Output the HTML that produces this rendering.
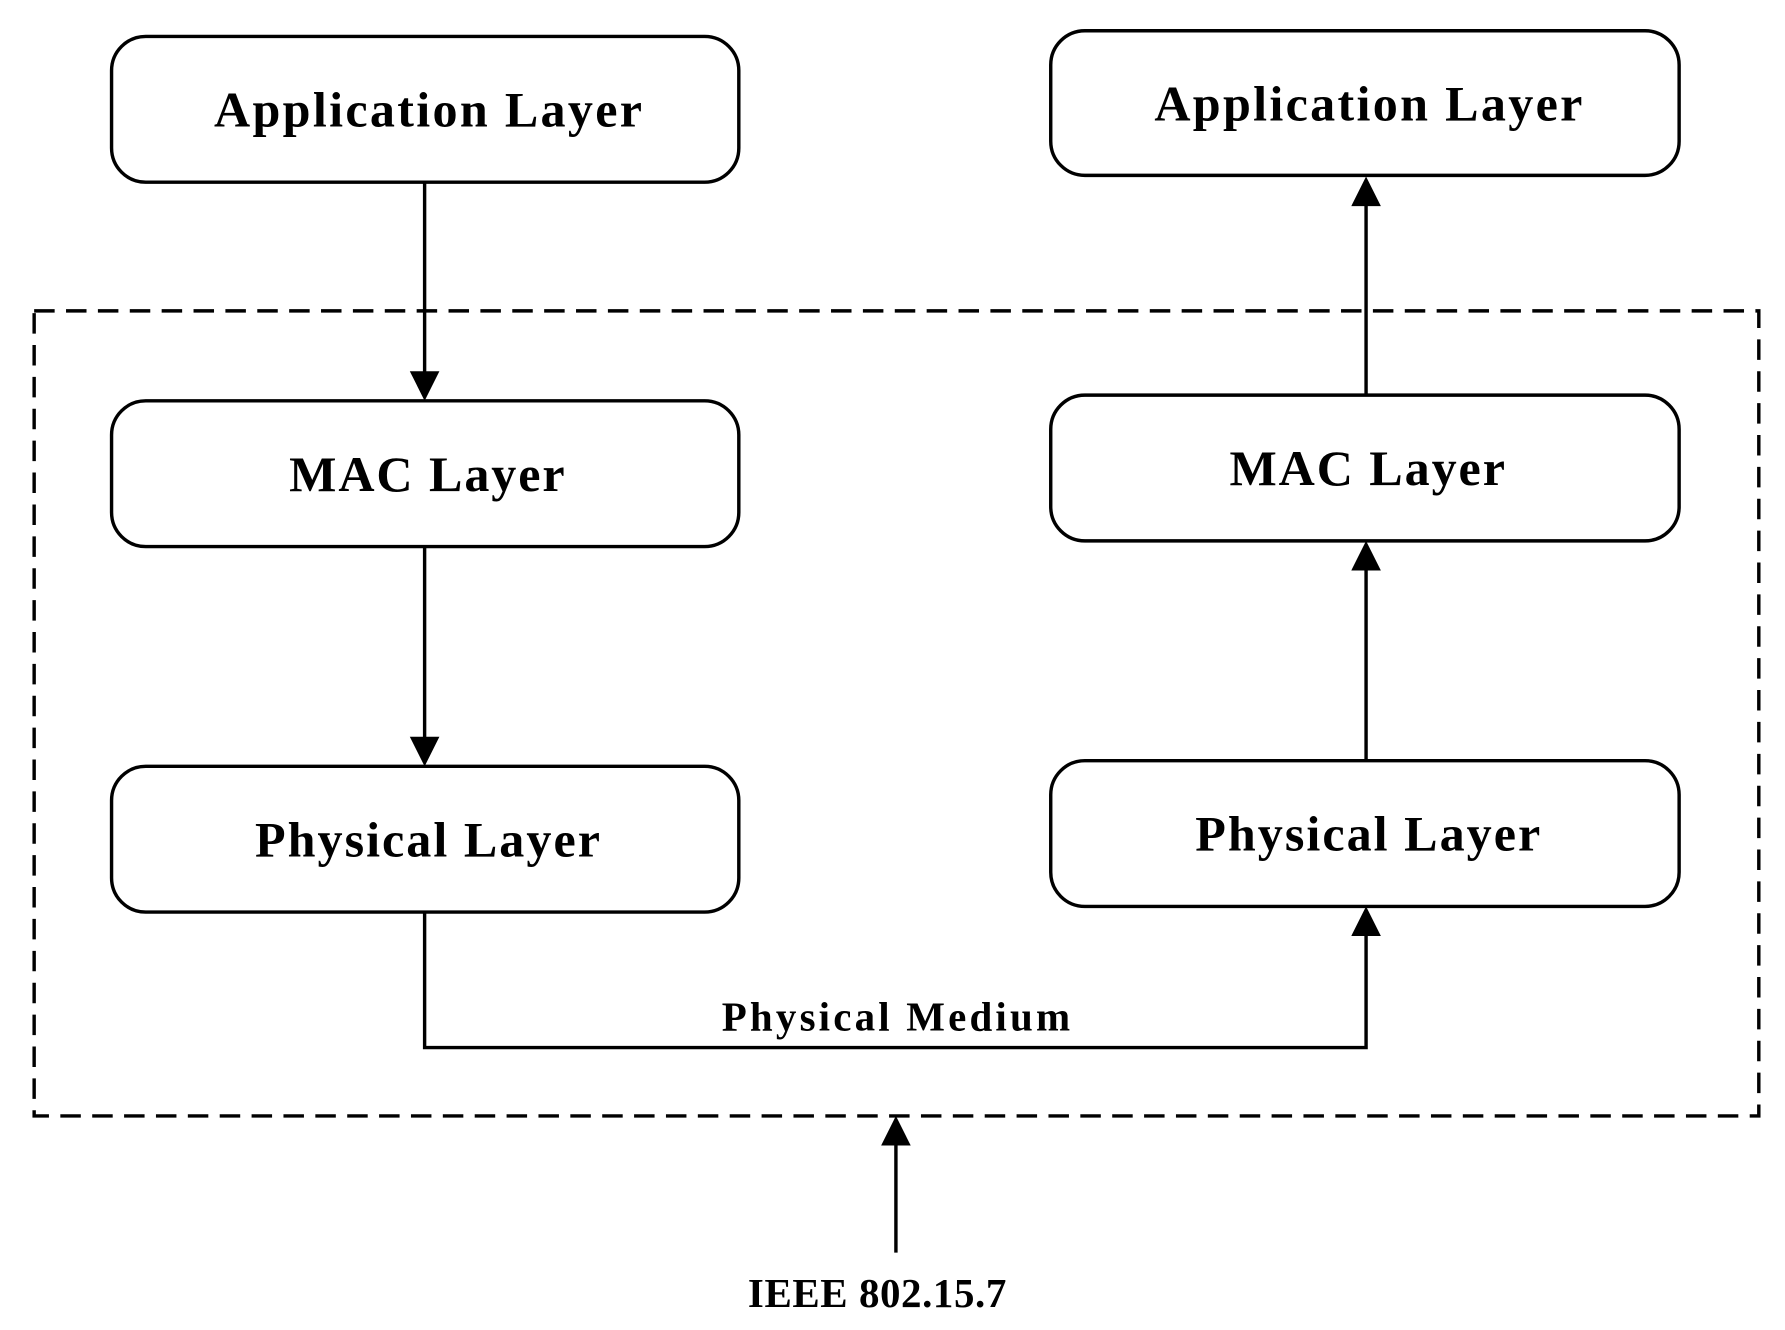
<!DOCTYPE html>
<html><head><meta charset="utf-8"><style>
html,body{margin:0;padding:0;background:#fff;}
svg{display:block;}
text{font-family:"Liberation Serif",serif;font-weight:bold;fill:#000;}
</style></head><body>
<svg width="1785" height="1330" viewBox="0 0 1568 1168" preserveAspectRatio="none" xmlns="http://www.w3.org/2000/svg">
<g fill="none" stroke="#000" stroke-width="3">
<rect x="30" y="273" width="1515" height="707" stroke-dasharray="18,10"/>
<rect x="98" y="32" width="551" height="128" rx="30"/>
<rect x="923" y="27" width="552" height="127" rx="30"/>
<rect x="98" y="352" width="551" height="128" rx="30"/>
<rect x="923" y="347" width="552" height="128" rx="30"/>
<rect x="98" y="673" width="551" height="128" rx="30"/>
<rect x="923" y="668" width="552" height="128" rx="30"/>
<line x1="373" y1="160" x2="373" y2="330"/>
<line x1="373" y1="480" x2="373" y2="651"/>
<line x1="1200" y1="347" x2="1200" y2="178"/>
<line x1="1200" y1="668" x2="1200" y2="498"/>
<polyline points="373,801 373,920 1200,920 1200,819"/>
<line x1="787" y1="1100" x2="787" y2="1002"/>
</g>
<g fill="#000">
<polygon points="360,326 386,326 373,352"/>
<polygon points="360,647 386,647 373,673"/>
<polygon points="1187,181 1213,181 1200,155"/>
<polygon points="1187,501 1213,501 1200,475"/>
<polygon points="1187,822 1213,822 1200,796"/>
<polygon points="774,1006 800,1006 787,980"/>
</g>
<g font-size="44" lengthAdjust="spacing">
<text x="188" y="111" textLength="376" lengthAdjust="spacing">Application Layer</text>
<text x="1014" y="106" textLength="376" lengthAdjust="spacing">Application Layer</text>
<text x="254" y="431" textLength="242" lengthAdjust="spacing">MAC Layer</text>
<text x="1080" y="426" textLength="242" lengthAdjust="spacing">MAC Layer</text>
<text x="224" y="752" textLength="303" lengthAdjust="spacing">Physical Layer</text>
<text x="1050" y="747" textLength="303" lengthAdjust="spacing">Physical Layer</text>
</g>
<text x="634" y="905" font-size="36" textLength="306" lengthAdjust="spacing">Physical Medium</text>
<text x="657" y="1148" font-size="36" textLength="227" lengthAdjust="spacing">IEEE 802.15.7</text>
</svg>
</body></html>
